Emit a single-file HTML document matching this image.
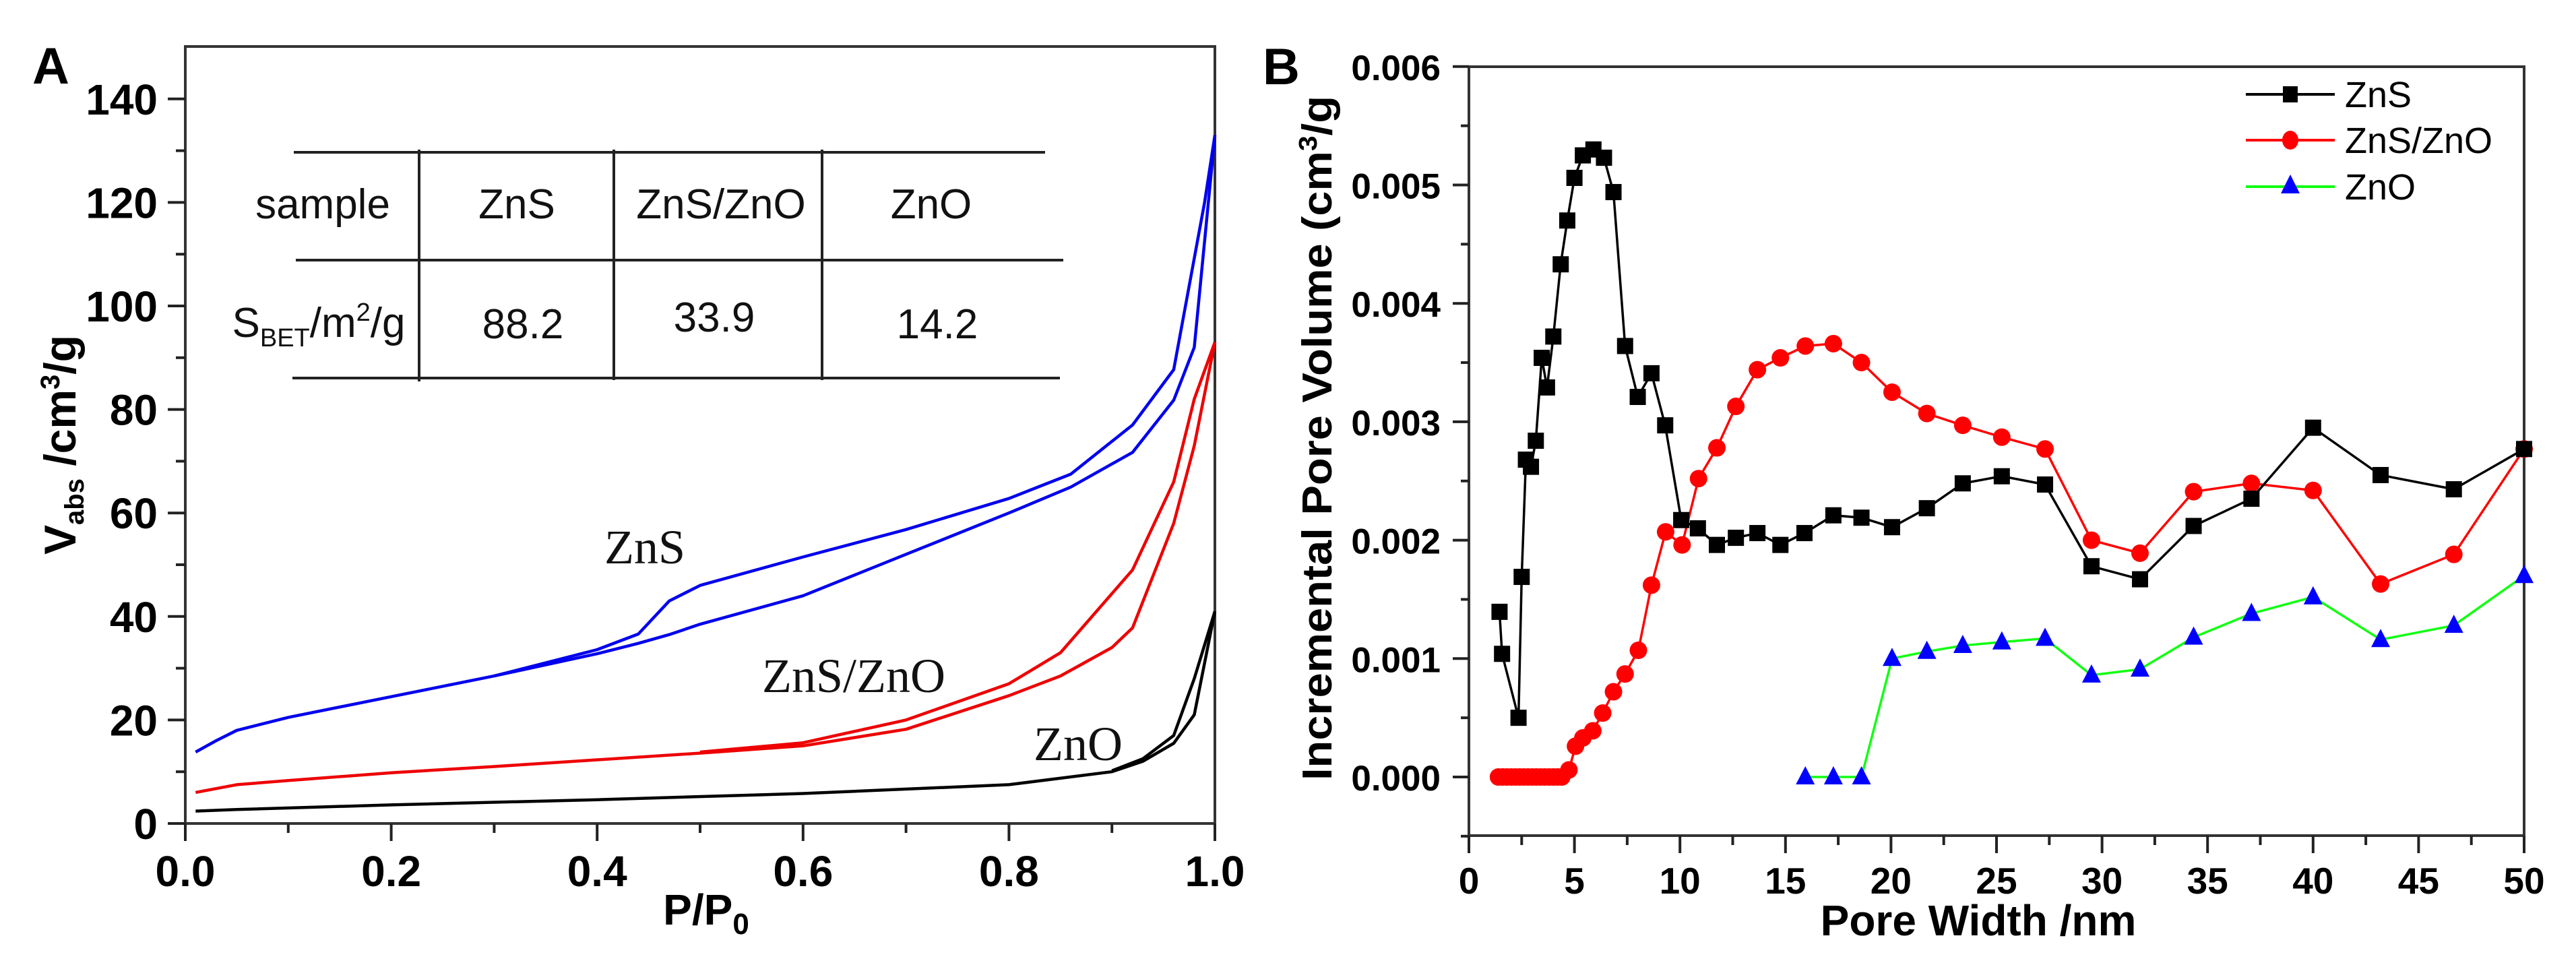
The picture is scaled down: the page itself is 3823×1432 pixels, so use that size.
<!DOCTYPE html>
<html><head><meta charset="utf-8"><style>
html,body{margin:0;padding:0;background:#fff;}
svg{display:block;font-family:"Liberation Sans",sans-serif;}
</style></head><body>
<svg id="fig" width="3823" height="1432" viewBox="0 0 3823 1432" xmlns="http://www.w3.org/2000/svg">
<rect width="3823" height="1432" fill="#fff"/>
<text x="48" y="124" font-size="76" font-weight="bold">A</text>
<text x="1874" y="125" font-size="76" font-weight="bold">B</text>
<g id="gA"></g>
<g id="gB"></g>
<g stroke="#222" stroke-width="4">
<line x1="436" y1="226" x2="1551" y2="226"/>
<line x1="439" y1="386" x2="1578" y2="386"/>
<line x1="434" y1="561" x2="1573" y2="561"/>
<line x1="622" y1="222" x2="622" y2="566"/>
<line x1="911" y1="222" x2="911" y2="564"/>
<line x1="1220" y1="222" x2="1220" y2="564"/>
</g>
<g font-size="62" text-anchor="middle" fill="#111">
<text x="479" y="324">sample</text>
<text x="767" y="324">ZnS</text>
<text x="1070" y="324">ZnS/ZnO</text>
<text x="1382" y="324">ZnO</text>
<text x="473" y="500">S<tspan font-size="38" dy="14">BET</tspan><tspan dy="-14">/m</tspan><tspan font-size="38" dy="-24">2</tspan><tspan dy="24">/g</tspan></text>
<text x="776" y="502">88.2</text>
<text x="1060" y="492">33.9</text>
<text x="1391" y="502">14.2</text>
</g>
<g font-family="Liberation Serif, serif" font-size="72" text-anchor="middle" fill="#111">
<text x="957" y="836">ZnS</text>
<text x="1267" y="1027">ZnS/ZnO</text>
<text x="1600" y="1128">ZnO</text>
</g>
<text transform="translate(112,660) rotate(-90)" text-anchor="middle" font-size="66" font-weight="bold">V<tspan font-size="40" dy="12">abs</tspan><tspan dy="-12"> /cm</tspan><tspan font-size="40" dy="-24">3</tspan><tspan dy="24">/g</tspan></text>
<text x="1048" y="1372" text-anchor="middle" font-size="64" font-weight="bold">P/P<tspan font-size="44" dy="14">0</tspan></text>
<text transform="translate(1976,650) rotate(-90)" text-anchor="middle" font-size="62" font-weight="bold" textLength="1016" lengthAdjust="spacingAndGlyphs">Incremental Pore Volume (cm<tspan font-size="38" dy="-22">3</tspan><tspan dy="22">/g</tspan></text>
<text x="2936" y="1388" text-anchor="middle" font-size="64" font-weight="bold">Pore Width /nm</text>
<g font-size="54">
<g><line x1="3333" y1="140" x2="3465" y2="140" stroke="#000" stroke-width="4"/><rect x="3388" y="128" width="22" height="24" fill="#000"/><text x="3480" y="159">ZnS</text></g>
<g><line x1="3333" y1="208" x2="3465" y2="208" stroke="#f00" stroke-width="4"/><ellipse cx="3399" cy="208" rx="12" ry="14" fill="#f00"/><text x="3480" y="227">ZnS/ZnO</text></g>
<g><line x1="3333" y1="277" x2="3465" y2="277" stroke="#1f1" stroke-width="4"/><polygon points="3399,259 3385,287 3413,287" fill="#00f"/><text x="3480" y="296">ZnO</text></g>
</g>
</svg>
<script>
// Panel A data (P/P0, V)
const znsAdsP=[0.01,0.03,0.05,0.1,0.2,0.3,0.4,0.44,0.47,0.5,0.6,0.7,0.8,0.86,0.92,0.96,0.98,1.0];
const znsAdsV=[13.8,16,18,20.5,24.5,28.5,32.8,34.8,36.5,38.5,44,52,60,65,71.7,81.8,92,133];
const znsDesP=[1.0,0.99,0.96,0.92,0.86,0.8,0.7,0.6,0.5,0.47,0.44,0.4,0.3];
const znsDesV=[133,120,87.7,77,67.5,62.8,56.8,51.5,46,43,36.6,33.6,28.5];
const mixAdsP=[0.01,0.05,0.1,0.2,0.3,0.4,0.5,0.6,0.7,0.8,0.85,0.9,0.92,0.96,0.98,1.0];
const mixAdsV=[6,7.5,8.3,9.8,11,12.3,13.6,15,18.2,24.7,28.5,34,37.8,58,73,93];
const mixDesP=[1.0,0.98,0.96,0.92,0.85,0.8,0.7,0.6,0.5];
const mixDesV=[93,82,66,49,33,27,20,15.6,13.8];
const znoAdsP=[0.01,0.05,0.2,0.4,0.6,0.8,0.9,0.93,0.96,0.98,1.0];
const znoAdsV=[2.4,2.7,3.6,4.6,5.8,7.5,10,12,15.5,21,41];
const znoDesP=[1.0,0.98,0.96,0.93,0.9];
const znoDesV=[41,28,17,12.5,10.2];
const aXTicks=[0,0.2,0.4,0.6,0.8,1.0];
const aXTickLabels=["0.0","0.2","0.4","0.6","0.8","1.0"];
const aYTicks=[0,20,40,60,80,100,120,140];
// Panel B data (pore width nm, volume)
const bZnsX=[1.45,1.57,2.35,2.5,2.7,2.94,3.17,3.45,3.7,4.0,4.35,4.66,5.0,5.4,5.9,6.4,6.85,7.4,8.0,8.65,9.3,10.06,10.85,11.75,12.65,13.67,14.76,15.9,17.27,18.6,20.05,21.7,23.4,25.25,27.3,29.5,31.8,34.34,37.08,40.0,43.2,46.67,50];
const bZnsY=[0.001395,0.00104,0.0005,0.00169,0.00268,0.00262,0.00284,0.00354,0.00329,0.00372,0.00433,0.0047,0.00506,0.00525,0.0053,0.00523,0.00494,0.00364,0.00321,0.00341,0.00297,0.00217,0.0021,0.00196,0.00202,0.00206,0.00196,0.00206,0.00221,0.00219,0.00211,0.00227,0.00248,0.00254,0.00247,0.00178,0.00167,0.00212,0.00235,0.00295,0.00255,0.00243,0.00277];
const bMixX=[1.4,1.6,1.8,2.0,2.2,2.4,2.6,2.8,3.0,3.2,3.4,3.6,3.8,4.0,4.2,4.4,4.74,5.05,5.4,5.87,6.34,6.85,7.4,8.03,8.65,9.32,10.1,10.88,11.75,12.65,13.67,14.76,15.94,17.27,18.6,20.05,21.7,23.4,25.25,27.3,29.5,31.8,34.34,37.08,40.0,43.2,46.67,50];
const bMixY=[0,0,0,0,0,0,0,0,0,0,0,0,0,0,0,0,0.00006,0.00026,0.00033,0.00039,0.00054,0.00072,0.00087,0.00107,0.00162,0.00207,0.00196,0.00252,0.00278,0.00313,0.00344,0.00354,0.00364,0.00366,0.0035,0.00325,0.00307,0.00297,0.00287,0.00277,0.002,0.00189,0.00241,0.00248,0.00242,0.00163,0.00188,0.00277];
const bZnoX=[15.94,17.27,18.6,20.05,21.7,23.4,25.25,27.3,29.5,31.8,34.34,37.08,40.0,43.2,46.67,50];
const bZnoY=[0,0,0,0.001,0.00106,0.00111,0.00114,0.00117,0.00086,0.00091,0.00118,0.00138,0.00152,0.00116,0.00128,0.0017];
const bXTicks=[0,5,10,15,20,25,30,35,40,45,50];
const bYTicks=[0,0.001,0.002,0.003,0.004,0.005,0.006];
const bYTickLabels=["0.000","0.001","0.002","0.003","0.004","0.005","0.006"];

const NS="http://www.w3.org/2000/svg";
function mk(tag,attrs,parent){const e=document.createElementNS(NS,tag);for(const k in attrs)e.setAttribute(k,attrs[k]);parent.appendChild(e);return e;}

// Panel A axes
const ax=v=>275+v*1528, ay=v=>1222-v*7.68;
const gA=document.getElementById('gA');
let fr=mk('rect',{x:275,y:69,width:1528,height:1153,fill:'none',stroke:'#333','stroke-width':4},gA);


for(let i=0;i<=10;i++){const v=i/10;const L=i%2===0?26:14;
 const t=mk('line',{x1:ax(v),y1:1222,x2:ax(v),y2:1222+L,stroke:'#222','stroke-width':4},gA);
 
 }
aXTicks.forEach((v,i)=>{const t=mk('text',{x:ax(v),y:1315,'text-anchor':'middle','font-size':64,'font-weight':'bold'},gA);t.textContent=aXTickLabels[i];
 
 });
for(let v=0;v<=140;v+=10){const L=v%20===0?26:14;
 const t=mk('line',{x1:275-L,y1:ay(v),x2:275,y2:ay(v),stroke:'#222','stroke-width':4},gA);
 
 }
aYTicks.forEach(v=>{const t=mk('text',{x:234,y:ay(v)+23,'text-anchor':'end','font-size':64,'font-weight':'bold'},gA);t.textContent=String(v);
 
 });
function lineA(P,V,color,name){const d=P.map((p,i)=>(i?'L':'M')+ax(p).toFixed(1)+','+ay(V[i]).toFixed(1)).join(' ');
 const e=mk('path',{d:d,fill:'none',stroke:color,'stroke-width':4.5,'stroke-linejoin':'round'},gA);
 
 }
lineA(znsAdsP,znsAdsV,'#0000ee','zns-adsorption-line');
lineA(znsDesP,znsDesV,'#0000ee','zns-desorption-line');
lineA(mixAdsP,mixAdsV,'#ee0000','znszno-adsorption-line');
lineA(mixDesP,mixDesV,'#ee0000','znszno-desorption-line');
lineA(znoAdsP,znoAdsV,'#000','zno-adsorption-line');
lineA(znoDesP,znoDesV,'#000','zno-desorption-line');

// Panel B axes
const bx=v=>2180+v*31.32, by=v=>1153-v*175700;
const gB=document.getElementById('gB');
let fb=mk('rect',{x:2180,y:99,width:1566,height:1141,fill:'none',stroke:'#333','stroke-width':4},gB);


for(let i=0;i<=20;i++){const v=i*2.5;const L=i%2===0?26:14;
 const t=mk('line',{x1:bx(v),y1:1240,x2:bx(v),y2:1240+L,stroke:'#222','stroke-width':4},gB);
 
 }
bXTicks.forEach(v=>{const t=mk('text',{x:bx(v),y:1326,'text-anchor':'middle','font-size':55,'font-weight':'bold'},gB);t.textContent=String(v);
 
 });
for(let i=-1;i<=12;i++){const v=i*0.0005;const L=i%2===0?24:12;
 const t=mk('line',{x1:2180-L,y1:by(v),x2:2180,y2:by(v),stroke:'#222','stroke-width':4},gB);
 
 }
bYTicks.forEach((v,i)=>{const t=mk('text',{x:2138,y:by(v)+20,'text-anchor':'end','font-size':53,'font-weight':'bold'},gB);t.textContent=bYTickLabels[i];
 
 });
function seriesB(X,Y,color,mcolor,shape,name){
 const g=mk('g',{},gB);
 
 
 const d=X.map((x,i)=>(i?'L':'M')+bx(x).toFixed(1)+','+by(Y[i]).toFixed(1)).join(' ');
 const l=mk('path',{d:d,fill:'none',stroke:color,'stroke-width':3.5},g);
 
 
 X.forEach((x,i)=>{const cx=bx(x),cy=by(Y[i]);let m;
  if(shape==='s')m=mk('rect',{x:cx-12,y:cy-12,width:24,height:24,fill:mcolor},g);
  else if(shape==='c')m=mk('circle',{cx:cx,cy:cy,r:13,fill:mcolor},g);
  else m=mk('polygon',{points:`${cx},${cy-16} ${cx-14},${cy+11} ${cx+14},${cy+11}`,fill:mcolor},g);
  
  });
}
seriesB(bMixX,bMixY,'#f00','#f00','c','znszno');
seriesB(bZnoX,bZnoY,'#1f1','#00f','t','zno');
seriesB(bZnsX,bZnsY,'#000','#000','s','zns');
</script>
</body></html>
